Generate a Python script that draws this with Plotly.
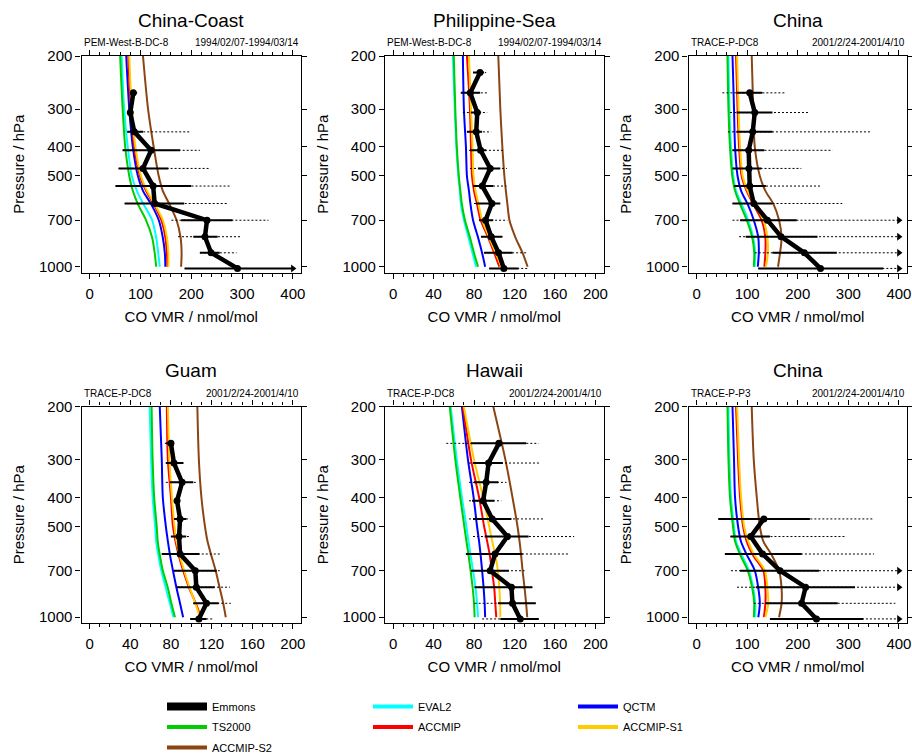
import math
import plotly.graph_objects as go

# ---------------- data ----------------
# Observation levels (hPa) – standard atmosphere at 0..11 km
LEVELS = [1013, 899, 795, 701, 617, 540, 472, 411, 357, 308, 265, 227]
# Model profile pressure grid (hPa)
MODEL_P = [200, 300, 400, 500, 560, 620, 700, 800, 900, 1000]

PANEL_TITLES = ["China-Coast", "Philippine-Sea", "China", "Guam", "Hawaii", "China"]
CAMPAIGNS = ["PEM-West-B-DC-8", "PEM-West-B-DC-8", "TRACE-P-DC8",
             "TRACE-P-DC8", "TRACE-P-DC8", "TRACE-P-P3"]
PERIODS = ["1994/02/07-1994/03/14", "1994/02/07-1994/03/14", "2001/2/24-2001/4/10",
           "2001/2/24-2001/4/10", "2001/2/24-2001/4/10", "2001/2/24-2001/4/10"]
X_MAX = [400, 200, 400, 200, 200, 400]
X_TICKS_400 = [0, 100, 200, 300, 400]
X_TICKS_200 = [0, 40, 80, 120, 160, 200]
Y_TICKS = [200, 300, 400, 500, 700, 1000]

# Emmons observations per panel (mean, solid-bar low/high, dotted low/high)
EMM_MEAN = [
    [291, 239, 227, 231, 128, 125, 105, 121, 88, 80, 86, None],
    [109.5, 104.3, 97, 91.4, 97.7, 88.2, 96, 86.5, 82.2, 83.2, 76.3, 85.9],
    [245, 213, 167, 140, 113, 105, 103.5, 103, 111, 115, 105, None],
    [107.5, 115, 105, 104, 89, 88, 89, 86, 91, 83, 80, None],
    [125.7, 118, 117, 96, 100.7, 113, 98, 89, 92, 94.4, 104.6, None],
    [237, 207.6, 215.5, 165, 130.5, 107, 133, None, None, None, None, None],
]
EMM_SOLID_LO = [
    [187, 217, 204, 180, 69, 51, 57, 65, 74, 78, 82, None],
    [95, 90, 87, 85, 82, 79, 84, 76, 73, 77, 67, 79],
    [122, 150, 97, 86, 71, 74, 71, 71, 79, 79, 79, None],
    [99, 102, 86, 83, 71, 80, 83, 84, 79, 75, 75, None],
    [106, 103.6, 80.6, 77, 72, 90.5, 79, 78, 80, 79, 77, None],
    [145, 136, 117, 86, 56, 67, 43, None, None, None, None, None],
]
EMM_SOLID_HI = [
    [420, 256, 252, 281, 186, 200, 155, 178, 105, 82, 92, None],
    [124, 118, 108, 99, 106, 99, 106, 92, 88, 87, 86, 90],
    [369, 277, 239, 198, 150, 137, 128, 134, 150, 150, 130, None],
    [115, 127, 123, 125, 108, 95, 95, 89, 102, 92, 81, None],
    [144, 141, 137.5, 114.5, 128, 134, 117, 100, 104, 108.5, 131.6, None],
    [329.5, 279, 313, 242, 207.6, 145, 224, None, None, None, None, None],
]
EMM_DOT_LO = [
    [187, 217, 174, 161, 69, 51, 57, 65, 74, 78, 82, None],
    [95, 90, 87, 85, 80, 79, 76, 75, 73, 69, 67, 79],
    [122, 115, 84, 71, 71, 74, 71, 71, 62, 66, 51, None],
    [99, 102, 86, 83, 71, 80, 83, 84, 75, 75, 74, None],
    [88, 80.6, 80.6, 77, 72, 79, 75, 75, 75, 75, 52.6, None],
    [145, 113, 80, 68, 56, 67, 43, None, None, None, None, None],
]
EMM_DOT_HI = [
    [420, 289, 297, 352, 270, 278, 238, 217, 197, 82, 95, None],
    [134, 133, 108, 113, 106, 112, 112.5, 109, 97, 93, 93, 92],
    [420, 420, 420, 420, 288, 246, 207, 269, 343, 222, 175, None],
    [122, 139, 138, 128, 129, 99, 99, 89, 105, 94, 82, None],
    [144, 141, 140, 130, 173, 179, 150, 107, 112, 146, 143.8, None],
    [420, 393, 420, 420, 351, 296.5, 349, None, None, None, None, None],
]

# Model profiles on MODEL_P, one list per panel
TS2000 = [
    [60, 65, 70, 78, 85, 95, 111, 123, 128, 131],
    [60, 61.5, 63, 65, 66.5, 68, 71, 76, 80, 84],
    [61, 63, 66, 70.5, 76, 86, 99, 110, 114, 113],
    [61, 62, 63.5, 66, 67, 69, 72, 77, 80.5, 84],
    [56, 61.5, 66.4, 70.4, 72.5, 74.5, 76.6, 78.7, 80, 80.6],
    [61, 63, 66, 72, 76, 86, 101, 110, 114, 113],
]
EVAL2 = [
    [63, 68, 75, 83, 93, 106, 123, 131, 135, 138],
    [59, 61, 62.5, 64.5, 66, 67, 70, 74.5, 78.5, 82],
    [63, 65, 68, 72.5, 78, 89, 102, 112, 116, 115],
    [59, 60.5, 62, 64.5, 65.5, 67.5, 70.5, 75, 79, 82.5],
    [57, 63, 68, 72.5, 74.5, 76.5, 79, 81.5, 83, 84],
    [63, 65, 68, 74, 78, 89, 103.5, 112, 116, 116],
]
QCTM = [
    [72, 78, 85, 95, 105, 121, 136, 144, 148, 149],
    [69, 70, 72, 73, 75, 76.5, 79, 84, 88, 91],
    [71, 74, 76, 81, 88, 101, 113, 122, 123, 121],
    [69, 71, 72, 75, 77, 79, 82, 85.5, 89, 92],
    [68, 74, 79.6, 83, 85, 86.5, 88, 89.5, 90.5, 91],
    [71, 74, 76, 82, 87.6, 99, 115, 122, 125, 122],
]
ACCMIP = [
    [76, 81, 88, 99, 111, 126, 141, 149, 152, 153],
    [73, 76, 77, 78, 80, 83, 86.5, 94, 100, 105],
    [78, 81, 84, 89, 99, 112, 128.5, 136, 136, 134],
    [76, 77, 80, 82, 84.5, 87.5, 92, 98, 104.5, 109.5],
    [69, 77, 85, 90, 93, 95.5, 97.7, 100, 101, 102],
    [78, 82, 86, 92, 99, 111, 132, 136, 136, 133],
]
ACCMIP_S1 = [
    [78, 83, 90, 101, 113, 128, 144, 152, 155, 155],
    [75, 77, 78.5, 79.5, 81.5, 84.5, 88, 95, 101.5, 107],
    [80, 83, 86, 91, 101, 114, 132, 140, 141, 137],
    [77, 78.5, 81, 83.5, 85.5, 88.5, 93, 98.5, 104, 108.5],
    [70, 80, 89, 95, 98, 101, 103.6, 105, 105.8, 106],
    [80, 84, 88, 94, 102, 114, 135, 140, 141.7, 136],
]
ACCMIP_S2 = [
    [105, 115, 126, 136, 144, 157, 171, 179, 181, 180],
    [104, 106, 108, 110, 111.5, 113, 115, 121, 128, 133],
    [109, 112, 115, 125, 136, 152, 163, 168, 165, 161],
    [106, 107.5, 110, 113.5, 116, 119.5, 124, 128, 131.5, 134],
    [99, 111, 118, 123, 125, 126.5, 128, 130, 131.5, 132.6],
    [109, 113, 119, 125, 132, 148, 163, 168, 168, 163],
]

MODEL_NAMES = ["EVAL2", "QCTM", "TS2000", "ACCMIP", "ACCMIP-S1", "ACCMIP-S2"]
MODEL_DATA = [EVAL2, QCTM, TS2000, ACCMIP, ACCMIP_S1, ACCMIP_S2]
MODEL_COLORS = ["#00FFFF", "#0000FF", "#00CC00", "#FF0000", "#FFCC00", "#8B4513"]

# legend layout: three columns
LEGEND_COLUMNS = [["Emmons", "TS2000", "ACCMIP-S2"], ["EVAL2", "ACCMIP"], ["QCTM", "ACCMIP-S1"]]

# ---------------- layout geometry (pixels) ----------------
W, H = 912, 755
COL_PX = [(81.5, 301), (385, 603.5), (688.5, 907)]
ROW_PX = [(56, 272.5), (406.5, 623)]
Y_BOTTOM = 1045
FONT = "Liberation Sans, Arial, Helvetica, sans-serif"

fig = go.Figure()
layout = dict(
    width=W, height=H, margin=dict(l=0, r=0, t=0, b=0, autoexpand=False),
    paper_bgcolor="white", plot_bgcolor="white",
    font=dict(family=FONT, size=15, color="black"),
    annotations=[],
)

for i in range(6):
    r, c = divmod(i, 3)
    ax = "" if i == 0 else str(i + 1)
    xref, yref = "x" + ax, "y" + ax
    xmax = X_MAX[i]
    pad = 0.04 * xmax
    (x0, x1), (y0, y1) = COL_PX[c], ROW_PX[r]

    # model profiles
    for name, data, col in zip(MODEL_NAMES, MODEL_DATA, MODEL_COLORS):
        fig.add_trace(go.Scatter(
            x=data[i], y=MODEL_P, mode="lines", line=dict(color=col, width=2, shape="spline", smoothing=0.8),
            xaxis=xref, yaxis=yref, showlegend=False, name=name, hoverinfo="skip"))

    # error bars (dotted = outer range, solid = inner range)
    dx, dy, sx, sy, axx, axy = [], [], [], [], [], []
    for p, dl, dh, sl, sh in zip(LEVELS, EMM_DOT_LO[i], EMM_DOT_HI[i], EMM_SOLID_LO[i], EMM_SOLID_HI[i]):
        if dl is None:
            continue
        dx += [dl, min(dh, xmax), None]
        dy += [p, p, None]
        sx += [sl, min(sh, xmax), None]
        sy += [p, p, None]
        if dh > xmax:
            axx.append(xmax)
            axy.append(p)
    fig.add_trace(go.Scatter(x=dx, y=dy, mode="lines", line=dict(color="black", width=1, dash="2px,2px"),
                             xaxis=xref, yaxis=yref, showlegend=False, hoverinfo="skip"))
    fig.add_trace(go.Scatter(x=sx, y=sy, mode="lines", line=dict(color="black", width=2),
                             xaxis=xref, yaxis=yref, showlegend=False, hoverinfo="skip"))
    if axx:
        fig.add_trace(go.Scatter(x=axx, y=axy, mode="markers",
                                 marker=dict(symbol="triangle-right", size=7, color="black"),
                                 xaxis=xref, yaxis=yref, showlegend=False, cliponaxis=False, hoverinfo="skip"))
    # Emmons mean profile
    fig.add_trace(go.Scatter(
        x=EMM_MEAN[i], y=LEVELS, mode="lines+markers",
        line=dict(color="black", width=4.5), marker=dict(color="black", size=7),
        xaxis=xref, yaxis=yref, showlegend=False, name="Emmons"))

    ticks = X_TICKS_400 if xmax == 400 else X_TICKS_200
    layout["xaxis" + ax] = dict(
        domain=[x0 / W, x1 / W], range=[-pad, xmax + pad], anchor=yref,
        tickvals=ticks, ticktext=[str(t) for t in ticks],
        ticks="outside", ticklen=5, tickwidth=1, tickcolor="black", ticklabelstandoff=2,
        minor=dict(dtick=xmax / 20, ticks="outside", ticklen=3, tickcolor="black", showgrid=False),
        showline=True, linecolor="black", linewidth=1.2, mirror="ticks",
        showgrid=False, zeroline=False, tickfont=dict(size=15), automargin=False,
        title=dict(text="CO VMR / nmol/mol", font=dict(size=15), standoff=10),
    )
    layout["yaxis" + ax] = dict(
        domain=[1 - y1 / H, 1 - y0 / H], type="log",
        range=[math.log10(Y_BOTTOM), math.log10(200)], anchor=xref,
        tickvals=Y_TICKS, ticktext=[str(t) for t in Y_TICKS],
        ticks="outside", ticklen=5, tickwidth=1, tickcolor="black",
        showline=True, linecolor="black", linewidth=1.2, mirror="ticks",
        showgrid=False, zeroline=False, tickfont=dict(size=15), automargin=False,
        title=dict(text="Pressure / hPa", font=dict(size=15), standoff=10),
    )
    # panel title and sub labels
    layout["annotations"] += [
        dict(text=PANEL_TITLES[i], x=(x0 + x1) / 2 / W, y=1 - (y0 - 36) / H, xref="paper", yref="paper",
             xanchor="center", yanchor="middle", showarrow=False, font=dict(size=19)),
        dict(text=CAMPAIGNS[i], x=x0 / W, y=1 - (y0 - 13) / H, xref="paper", yref="paper",
             xanchor="left", yanchor="middle", showarrow=False, font=dict(size=10)),
        dict(text=PERIODS[i], x=x1 / W, y=1 - (y0 - 13) / H, xref="paper", yref="paper",
             xanchor="right", yanchor="middle", showarrow=False, font=dict(size=10)),
    ]

# legend-only entries, three legends as columns
style = {n: (c, 4) for n, c in zip(MODEL_NAMES, MODEL_COLORS)}
style["Emmons"] = ("black", 8)
legend_x = [162, 368, 573]
for k, names in enumerate(LEGEND_COLUMNS):
    lg = "legend" if k == 0 else "legend%d" % (k + 1)
    for n in names:
        col, w = style[n]
        fig.add_trace(go.Scatter(x=[None], y=[None], mode="lines", name=n, legendgroup=n,
                                 line=dict(color=col, width=w), legend=lg, showlegend=True))
    layout[lg] = dict(x=legend_x[k] / W, y=1 - 692 / H, xanchor="left", yanchor="top",
                      bgcolor="rgba(0,0,0,0)", borderwidth=0, font=dict(size=11),
                      orientation="v", traceorder="grouped", tracegroupgap=1.5, itemwidth=40)

fig.update_layout(**layout)
fig.write_html("out.html")
